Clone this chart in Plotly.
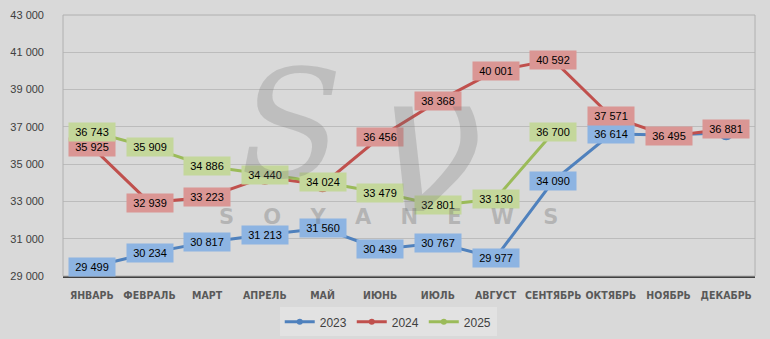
import plotly.graph_objects as go

months = ["ЯНВАРЬ", "ФЕВРАЛЬ", "МАРТ", "АПРЕЛЬ", "МАЙ", "ИЮНЬ", "ИЮЛЬ",
          "АВГУСТ", "СЕНТЯБРЬ", "ОКТЯБРЬ", "НОЯБРЬ", "ДЕКАБРЬ"]
y2023 = [29499, 30234, 30817, 31213, 31560, 30439, 30767, 29977, 34090, 36614, 36560, 36690]
y2024 = [35925, 32939, 33223, 34300, 33900, 36456, 38368, 40001, 40592, 37571, 36495, 36881]
y2025 = [36743, 35909, 34886, 34440, 34024, 33479, 32801, 33130, 36700]
# which points get a visible label
lab2023 = [True] * 10 + [False, False]
lab2024 = [True, True, True, False, False, True, True, True, True, True, True, True]
lab2025 = [True] * 9
yticks = [29000, 31000, 33000, 35000, 37000, 39000, 41000, 43000]

series = [
    ("2023", y2023, lab2023, "#4f81bd", "#8db4e2"),
    ("2024", y2024, lab2024, "#c0504d", "#da9694"),
    ("2025", y2025, lab2025, "#9bbb59", "#c4d79b"),
]

def fmt(v):
    return f"{v:,}".replace(",", " ")

fig = go.Figure()
ann = []
for name, ys, labs, col, box in series:
    fig.add_trace(go.Scatter(
        x=months[:len(ys)], y=ys, name=name, mode="lines+markers",
        line=dict(color=col, width=3), showlegend=False,
        marker=dict(color=col, size=15, symbol="circle"),
        hoverinfo="skip"))
for name, ys, labs, col, box in series:
    fig.add_trace(go.Scatter(
        x=[None], y=[None], name=name, mode="lines+markers",
        line=dict(color=col, width=3), marker=dict(color=col, size=6)))
for name, ys, labs, col, box in series:
    for m, v, show in zip(months, ys, labs):
        if show:
            ann.append(dict(x=m, y=v, xref="x", yref="y", text=fmt(v),
                            showarrow=False, bgcolor=box, borderpad=2,
                            width=42, height=14,
                            font=dict(family="Liberation Sans", size=11, color="#000000")))

# watermark
ann.append(dict(x=0.33, y=0.58, xref="paper", yref="paper", text="<i>S</i>",
                xanchor="center", yanchor="middle",
                showarrow=False, font=dict(family="DejaVu Serif", size=150,
                                           color="rgba(110,110,110,0.25)")))
ann.append(dict(x=0.53, y=0.50, xref="paper", yref="paper", text="<i>ν</i>",
                xanchor="center", yanchor="middle",
                showarrow=False, font=dict(family="DejaVu Sans", size=190,
                                           color="rgba(110,110,110,0.25)")))
ann.append(dict(x=0.47, y=0.226, xref="paper", yref="paper",
                xanchor="center", yanchor="middle",
                text="<b>S    O    Y    A    N    E    W    S</b>", showarrow=False,
                font=dict(family="DejaVu Sans", size=21, color="rgba(110,110,110,0.35)")))

fig.update_layout(
    width=770, height=339,
    margin=dict(l=63, r=15, t=15, b=63, autoexpand=False),
    paper_bgcolor="#d9d9d9", plot_bgcolor="#d9d9d9",
    showlegend=True,
    legend=dict(orientation="h", x=0.47, xanchor="center", y=-0.12, yanchor="top",
                bgcolor="#e2e2e2", font=dict(family="Liberation Sans", size=12, color="#404040"),
                itemwidth=30, tracegroupgap=0),
    annotations=ann,
    shapes=[dict(type="rect", xref="paper", yref="paper", x0=0, y0=0, x1=1, y1=1,
                 line=dict(color="#b0b0b0", width=1))],
)
fig.update_xaxes(showgrid=False, showline=True, linecolor="#404040", linewidth=2,
                 ticks="", tickangle=0, range=[-0.5, len(months) - 0.5],
                 tickfont=dict(family="DejaVu Sans Condensed, Liberation Sans", size=10.5,
                               color="#595959", weight="bold"),
                 ticklabelstandoff=8)
fig.update_yaxes(range=[29000, 43000], tickvals=yticks,
                 ticktext=[fmt(t) for t in yticks],
                 showgrid=True, gridcolor="#bcbcbc", gridwidth=1, zeroline=False,
                 tickfont=dict(family="Liberation Sans", size=11, color="#404040"),
                 ticklabelstandoff=18)
fig.write_html("out.html")
